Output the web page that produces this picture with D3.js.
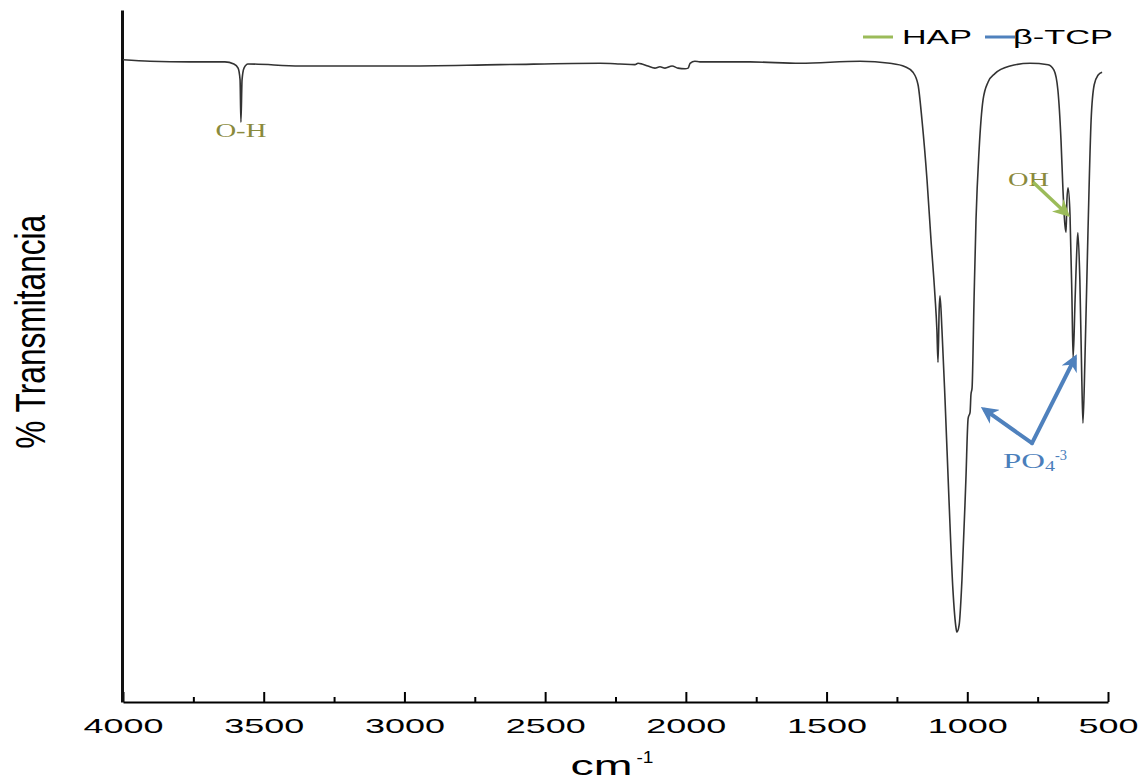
<!DOCTYPE html>
<html>
<head>
<meta charset="utf-8">
<script src="https://cdn.jsdelivr.net/npm/d3@7"></script>
<style>
  body { margin: 0; background: #fff; }
  svg { display: block; }
</style>
</head>
<body>
<svg id="chart" width="1138" height="782"></svg>
<script>
// FTIR spectrum (cm-1 vs relative % transmittance)
const wavenumber = [4000, 3904, 3762, 3638, 3606, 3591, 3584, 3581, 3577, 3570,
  3556, 3371, 3016, 2660, 2305, 2234, 2181, 2170, 2156, 2135,
  2110, 2092, 2074, 2049, 2028, 2003, 1992, 1985, 1968, 1950,
  1772, 1594, 1381, 1275, 1221, 1193, 1175, 1161, 1143, 1129,
  1115, 1108, 1104, 1100, 1097, 1090, 1079, 1065, 1051, 1040,
  1037, 1029, 1019, 1005, 997, 990, 987, 983, 976, 969,
  958, 944, 926, 902, 848, 777, 713, 692, 678, 667,
  660, 653, 649, 646, 642, 635, 628, 624, 617, 610,
  607, 600, 593, 589, 582, 571, 560, 549, 535, 521];
const transmittance = [92.8, 92.6, 92.5, 92.5, 92.2, 91.6, 89.9, 83.8, 89.9, 91.6,
  92.2, 91.9, 91.9, 92.1, 92.3, 92.2, 92.1, 92.3, 92.2, 91.9,
  91.6, 91.8, 91.6, 91.9, 91.6, 91.5, 91.6, 92.3, 92.6, 92.5,
  92.5, 92.3, 92.6, 92.3, 91.8, 91.0, 89.2, 84.1, 75.4, 66.8,
  58.8, 53.8, 49.1, 56.6, 58.7, 53.8, 43.6, 29.2, 16.2, 10.7,
  10.1, 11.1, 17.6, 32.1, 41.0, 41.9, 44.4, 45.4, 58.1, 69.7,
  79.8, 87.0, 89.6, 90.8, 91.9, 92.3, 92.1, 91.3, 88.4, 81.2,
  74.0, 68.9, 67.9, 72.5, 74.3, 70.4, 58.1, 49.7, 58.1, 66.0,
  67.8, 61.0, 46.5, 40.3, 49.4, 68.2, 84.1, 89.2, 90.6, 91.0];

const majorTicks = [4000, 3500, 3000, 2500, 2000, 1500, 1000, 500];
const minorTicks = [3750, 3250, 2750, 2250, 1750, 1250, 750];

const legendNames = ["HAP", "β-TCP"];
const legendColors = ["#9bbb59", "#4f81bd"];

// band labels and arrows, in data units [cm-1, %T]
const hapArrow = [[766, 75.1], [648, 70.6]];
const tcpArrows = [[[770, 37.4], [937, 42.2]], [[770, 37.4], [619, 49.6]]];

const svg = d3.select("#chart");
const x = d3.scaleLinear().domain([4000, 500]).range([123, 1108]);
const y = d3.scaleLinear().domain([0, 100]).range([702, 10]);

const spectrum = wavenumber.map((w, i) => ({ w: w, t: transmittance[i] }));

// arrow heads
const defs = svg.append("defs");
legendColors.forEach((c, i) => {
  defs.append("marker")
    .attr("id", "head" + i)
    .attr("viewBox", "0 0 10 10")
    .attr("refX", 7).attr("refY", 5)
    .attr("markerWidth", 17).attr("markerHeight", 17)
    .attr("markerUnits", "userSpaceOnUse")
    .attr("orient", "auto")
    .append("path")
    .attr("d", "M0,0 L10,5 L0,10 L3,5 Z")
    .attr("fill", c);
});

// axes
const xMinor = svg.append("g")
  .attr("transform", `translate(0,${y(0)})`)
  .call(d3.axisBottom(x).tickValues(minorTicks).tickSize(-5).tickFormat(""));
xMinor.select(".domain").remove();
xMinor.selectAll("line").attr("stroke", "#000").attr("stroke-width", 2);

const xAxis = svg.append("g")
  .attr("transform", `translate(0,${y(0)})`)
  .call(d3.axisBottom(x).tickValues(majorTicks).tickSizeInner(-10).tickSizeOuter(0).tickPadding(16)
    .tickFormat(d3.format("d")));
xAxis.select(".domain").attr("stroke", "#000").attr("stroke-width", 2);
xAxis.selectAll("line").attr("stroke", "#000").attr("stroke-width", 2);
xAxis.selectAll("text")
  .attr("font-family", "Liberation Sans, Arial, sans-serif")
  .attr("font-size", 21)
  .attr("fill", "#000")
  .attr("dy", "0.72em")
  .attr("textLength", d => String(d).length * 20)
  .attr("lengthAdjust", "spacingAndGlyphs");

const yAxis = svg.append("g")
  .attr("transform", `translate(${x(4000) - 1},0)`)
  .call(d3.axisLeft(y).tickValues([]).tickSizeOuter(0));
yAxis.select(".domain").attr("stroke", "#111").attr("stroke-width", 3);

// spectrum line
svg.append("path")
  .datum(spectrum)
  .attr("fill", "none")
  .attr("stroke", "#333")
  .attr("stroke-width", 1.6)
  .attr("stroke-linejoin", "round")
  .attr("d", d3.line().x(d => x(d.w)).y(d => y(d.t)).curve(d3.curveMonotoneX));

// axis titles
svg.append("text")
  .attr("transform", `translate(45,${y(53.5)}) rotate(-90)`)
  .attr("text-anchor", "middle")
  .attr("font-family", "Liberation Sans, Arial, sans-serif")
  .attr("font-size", 42)
  .attr("textLength", 234)
  .attr("lengthAdjust", "spacingAndGlyphs")
  .text("% Transmitancia");

const xTitle = svg.append("text")
  .attr("x", x(2250) - 45)
  .attr("y", 775)
  .attr("font-family", "Liberation Sans, Arial, sans-serif")
  .attr("fill", "#000");
xTitle.append("tspan").attr("font-size", 28).attr("textLength", 62)
  .attr("lengthAdjust", "spacingAndGlyphs").text("cm");
xTitle.append("tspan").attr("font-size", 17).attr("dx", 4).attr("dy", -12)
  .attr("textLength", 17).attr("lengthAdjust", "spacingAndGlyphs").text("-1");

// legend
const legend = svg.append("g");
const legendX = [863, 985];
const legendW = [70, 100];
legendNames.forEach((n, i) => {
  legend.append("line")
    .attr("x1", legendX[i]).attr("x2", legendX[i] + 30)
    .attr("y1", 37).attr("y2", 37)
    .attr("stroke", legendColors[i]).attr("stroke-width", 3);
  legend.append("text")
    .attr("x", legendX[i] + (i === 0 ? 39 : 28))
    .attr("y", 44)
    .attr("font-family", "Liberation Sans, Arial, sans-serif")
    .attr("font-size", 21)
    .attr("textLength", legendW[i])
    .attr("lengthAdjust", "spacingAndGlyphs")
    .text(n);
});

// annotations
const serif = "Liberation Serif, Times New Roman, serif";
const olive = "#8a8a3c";

svg.append("text")
  .attr("x", x(3581)).attr("y", y(81.6))
  .attr("text-anchor", "middle")
  .attr("font-family", serif).attr("font-size", 18)
  .attr("fill", olive)
  .attr("textLength", 51).attr("lengthAdjust", "spacingAndGlyphs")
  .text("O-H");

svg.append("text")
  .attr("x", x(855)).attr("y", y(74.6))
  .attr("font-family", serif).attr("font-size", 18)
  .attr("fill", olive)
  .attr("textLength", 41).attr("lengthAdjust", "spacingAndGlyphs")
  .text("OH");

svg.append("line")
  .attr("x1", x(hapArrow[0][0])).attr("y1", y(hapArrow[0][1]))
  .attr("x2", x(hapArrow[1][0])).attr("y2", y(hapArrow[1][1]))
  .attr("stroke", legendColors[0]).attr("stroke-width", 3.5)
  .attr("marker-end", "url(#head0)");

tcpArrows.forEach(a => {
  svg.append("line")
    .attr("x1", x(a[0][0])).attr("y1", y(a[0][1]))
    .attr("x2", x(a[1][0])).attr("y2", y(a[1][1]))
    .attr("stroke", legendColors[1]).attr("stroke-width", 4)
    .attr("stroke-linecap", "round")
    .attr("marker-end", "url(#head1)");
});

const po4 = svg.append("text")
  .attr("x", x(873)).attr("y", y(33.8))
  .attr("font-family", serif)
  .attr("fill", "#4a7ebb");
po4.append("tspan").attr("font-size", 21).attr("textLength", 42)
  .attr("lengthAdjust", "spacingAndGlyphs").text("PO");
po4.append("tspan").attr("font-size", 14).attr("dy", 3)
  .attr("textLength", 10).attr("lengthAdjust", "spacingAndGlyphs").text("4");
po4.append("tspan").attr("font-size", 14).attr("dy", -11)
  .attr("textLength", 12).attr("lengthAdjust", "spacingAndGlyphs").text("-3");
</script>
</body>
</html>
